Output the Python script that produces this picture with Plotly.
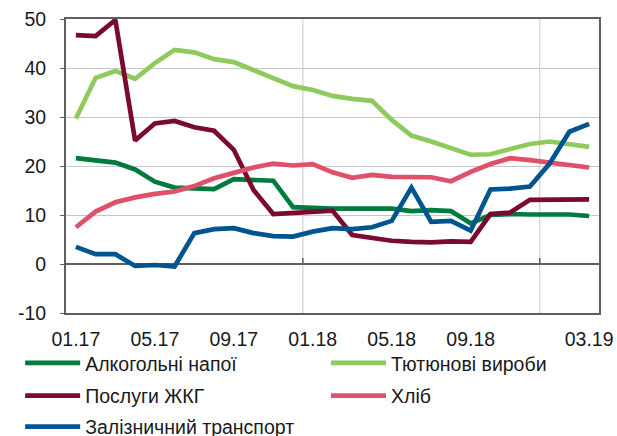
import plotly.graph_objects as go

months = ["01.17","02.17","03.17","04.17","05.17","06.17","07.17","08.17","09.17","10.17","11.17","12.17",
          "01.18","02.18","03.18","04.18","05.18","06.18","07.18","08.18","09.18","10.18","11.18","12.18",
          "01.19","02.19","03.19"]
tick_labels = ["01.17","05.17","09.17","01.18","05.18","09.18","03.19"]
year_starts = ["01.18","01.19"]
y_ticks = [-10, 0, 10, 20, 30, 40, 50]
y_tick_labels = ["-10", "0", "10", "20", "30", "40", "50"]

alcohol = [21.6, 21.2, 20.7, 19.3, 16.8, 15.6, 15.4, 15.3, 17.3, 17.2, 17.0, 11.6, 11.4, 11.3,
           11.3, 11.3, 11.3, 10.8, 11.0, 10.8, 8.3, 10.0, 10.2, 10.1, 10.1, 10.1, 9.8]
tobacco = [29.7, 38.0, 39.4, 37.8, 41.0, 43.7, 43.2, 41.8, 41.2, 39.6, 38.0, 36.3, 35.5, 34.3,
           33.7, 33.3, 29.4, 26.2, 25.0, 23.6, 22.3, 22.4, 23.4, 24.5, 25.0, 24.4, 23.9]
utilities = [46.7, 46.5, 49.8, 25.2, 28.7, 29.2, 27.9, 27.2, 23.3, 15.1, 10.2, 10.5, 10.75, 10.9,
             5.9, 5.4, 4.75, 4.5, 4.4, 4.6, 4.5, 10.2, 10.5, 13.1, 13.2, 13.2, 13.2]
bread = [7.5, 10.7, 12.6, 13.6, 14.3, 14.8, 15.9, 17.5, 18.6, 19.7, 20.5, 20.1, 20.4, 18.7,
         17.6, 18.2, 17.8, 17.7, 17.7, 16.9, 18.8, 20.4, 21.6, 21.2, 20.7, 20.2, 19.7]
rail = [3.5, 2.0, 2.0, -0.4, -0.2, -0.5, 6.3, 7.1, 7.3, 6.3, 5.7, 5.6, 6.6, 7.3,
        7.1, 7.5, 8.8, 15.6, 8.6, 8.8, 6.8, 15.2, 15.4, 15.8, 20.5, 27.0, 28.6]

series_names = ["Алкогольні напої", "Тютюнові вироби", "Послуги ЖКГ", "Хліб", "Залізничний транспорт"]
series_values = [alcohol, tobacco, utilities, bread, rail]
series_colors = ["#007A3D", "#8ECB5C", "#7A0A32", "#E0506A", "#00558F"]

# legend slots (column x, row y in paper coordinates)
legend_ids = ["legend", "legend2", "legend3", "legend4", "legend5"]
col1, col2 = -0.086, 0.4878
row1, row2, row3 = -0.171, -0.2823, -0.3878
legend_pos = [(col1, row1), (col2, row1), (col1, row2), (col2, row2), (col1, row3)]

x = list(range(len(months)))
fig = go.Figure()
for name, vals, color, lg in zip(series_names, series_values, series_colors, legend_ids):
    fig.add_trace(go.Scatter(x=x, y=vals, name=name, mode="lines",
                             line=dict(color=color, width=4.7), legend=lg))

frame = "#5F5F5F"
grid = "#C8C8C8"
for m in year_starts:
    xv = months.index(m) - 0.5
    fig.add_shape(type="line", xref="x", yref="paper", x0=xv, x1=xv, y0=0, y1=1,
                  line=dict(color=grid, width=1), layer="below")
    fig.add_shape(type="line", xref="x", yref="y", x0=xv, x1=xv, y0=0, y1=1.2,
                  line=dict(color=frame, width=1.5), layer="below")

font = dict(family="Liberation Sans, Arial, sans-serif", size=19.5, color="#1a1a1a")
fig.update_layout(
    width=617, height=436,
    margin=dict(l=66, r=18, t=19, b=123, autoexpand=False),
    paper_bgcolor="white", plot_bgcolor="white",
    font=font,
    showlegend=True,
    xaxis=dict(range=[-0.5, len(months) - 0.5], tickmode="array",
               tickvals=[months.index(t) for t in tick_labels], ticktext=tick_labels,
               showgrid=False, zeroline=False, showline=True, linecolor=frame, linewidth=2,
               mirror=True, ticks="", ticklabelstandoff=8, automargin=False),
    yaxis=dict(range=[-10, 50], tickmode="array", tickvals=y_ticks, ticktext=y_tick_labels,
               showgrid=True, gridcolor=grid, gridwidth=1,
               zeroline=True, zerolinecolor=frame, zerolinewidth=1.5,
               showline=True, linecolor=frame, linewidth=2, mirror=True,
               ticks="outside", ticklen=4, tickcolor=frame, ticklabelstandoff=10,
               automargin=False),
)
common = dict(orientation="h", xanchor="left", yanchor="middle", itemwidth=55,
              bgcolor="rgba(0,0,0,0)", font=font, itemclick=False)
fig.update_layout(**{lid: dict(x=px, y=py, **common) for lid, (px, py) in zip(legend_ids, legend_pos)})
fig.write_html("out.html", config={"displayModeBar": False},
               post_script="document.body.style.margin='0';document.body.style.padding='0';")
